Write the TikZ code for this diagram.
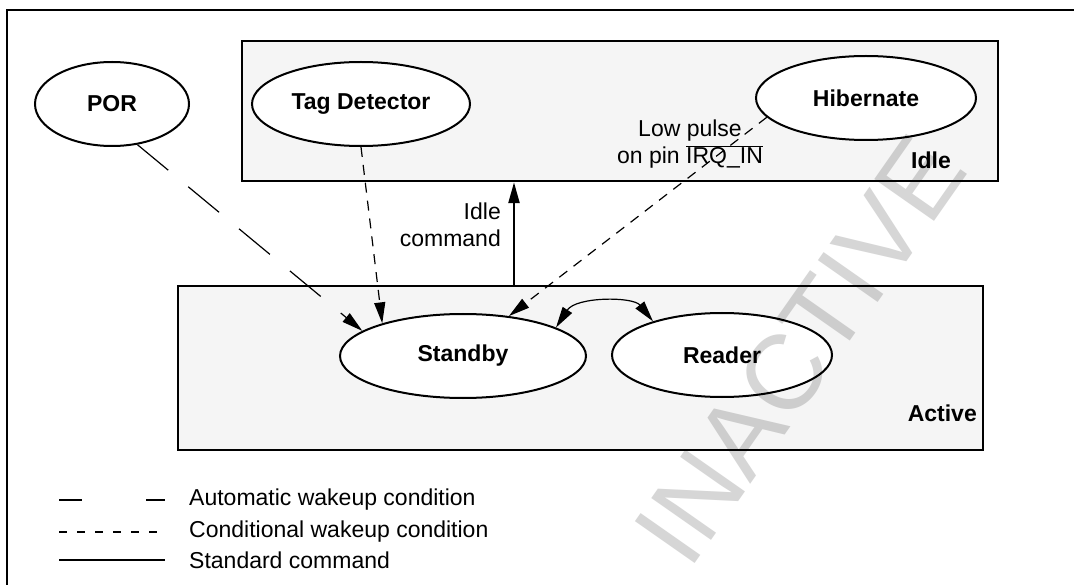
\documentclass[tikz,border=0pt]{standalone}
\usepackage{fontspec}
\setmainfont{Liberation Sans}
\usetikzlibrary{arrows.meta,shapes.geometric}
\definecolor{boxfill}{RGB}{245,245,245}
\definecolor{wmark}{RGB}{214,214,214}
\newcommand\fsz{\fontsize{23}{27}\selectfont}
\newcommand\irqbar{$\overline{\hbox{IRQ\_IN}}$}
\begin{document}
\begin{tikzpicture}[x=1pt,y=-1pt,
  region/.style={draw, line width=2.5pt, fill=boxfill, inner sep=0pt},
  state/.style={ellipse, draw, line width=2pt, fill=white, inner sep=0pt, minimum height=84pt, font=\fsz\bfseries},
  lbl/.style={font=\fsz, inner sep=0pt},
  blbl/.style={font=\fsz\bfseries, inner sep=0pt},
  tip/.style={-{Triangle[length=21pt,width=11pt]}},
  autoline/.style={line width=1.2pt, dash pattern=on 40pt off 26pt},
  condline/.style={line width=1.2pt, dash pattern=on 10pt off 8pt},
  stdline/.style={line width=2.4pt},
]
\useasboundingbox (0,0) rectangle (1074,585);
\fill[white] (0,0) rectangle (1074,585);
% outer frame
\coordinate (frTR) at (1074,10);
\coordinate (frTL) at (7,10);
\coordinate (frBL) at (7,585);
\draw[line width=2.5pt] (frTR) -- (frTL) -- (frBL);

% regions
\node[region, minimum width=756pt, minimum height=140pt] (idle) at (620,111) {};
\node[region, minimum width=805pt, minimum height=164pt] (active) at (580.5,368) {};

% states
\node[state, minimum width=154pt] (por) at (112,104) {POR};
\node[state, minimum width=218pt] (tag) at (361,104) {Tag Detector};
\node[state, minimum width=220pt] (hib) at (866,98) {Hibernate};
\node[state, minimum width=246pt] (sb) at (463,356) {Standby};
\node[state, minimum width=220pt] (rd) at (722,355) {Reader};

% region labels
\node[blbl, anchor=east] (idlelbl) at (951,160) {Idle};
\node[blbl, anchor=east] (activelbl) at (977,413) {Active};

% texts
\node[lbl, align=right, anchor=east] (cmdlbl) at (501,225) {Idle\\command};
\node[lbl, align=center] (pulselbl) at (690,144) {Low pulse\\on pin \irqbar};

% connectors
\draw[autoline, tip] (por.-58) -- (sb.166);
\draw[condline, tip] (tag.south) -- (sb.158);
\draw[condline, tip] (hib.191) -- (sb.41);
\coordinate (cmdx) at (514,0);
\draw[stdline, tip] (active.north -| cmdx) -- (idle.south -| cmdx);
\draw[line width=1.2pt, {Triangle[length=21pt,width=11pt]}-{Triangle[length=21pt,width=11pt]}]
  (sb.17) .. controls +(20,-31) and +(-20,-25) .. (rd.154);

% legend
\coordinate (la1) at (59,500); \coordinate (la2) at (165,500);
\coordinate (lb1) at (59,532); \coordinate (lb2) at (165,532);
\coordinate (lc1) at (59,560); \coordinate (lc2) at (165,560);
\draw[line width=2.4pt, dash pattern=on 23pt off 64pt on 19pt off 10pt] (la1) -- (la2);
\draw[line width=2.4pt, dash pattern=on 8pt off 10pt] (lb1) -- (lb2);
\draw[stdline] (lc1) -- (lc2);
\node[lbl, anchor=west] (legA) at (189,500) {Automatic wakeup condition};
\node[lbl, anchor=west] (legB) at (189,532) {Conditional wakeup condition};
\node[lbl, anchor=west] (legC) at (189,560) {Standard command};

% watermark
\begin{scope}[blend mode=multiply]
\node[font=\fontsize{106}{106}\selectfont, text=wmark, rotate=55, inner sep=0pt] (wm) at (800,350) {INACTIVE};
\end{scope}
\end{tikzpicture}
\end{document}
